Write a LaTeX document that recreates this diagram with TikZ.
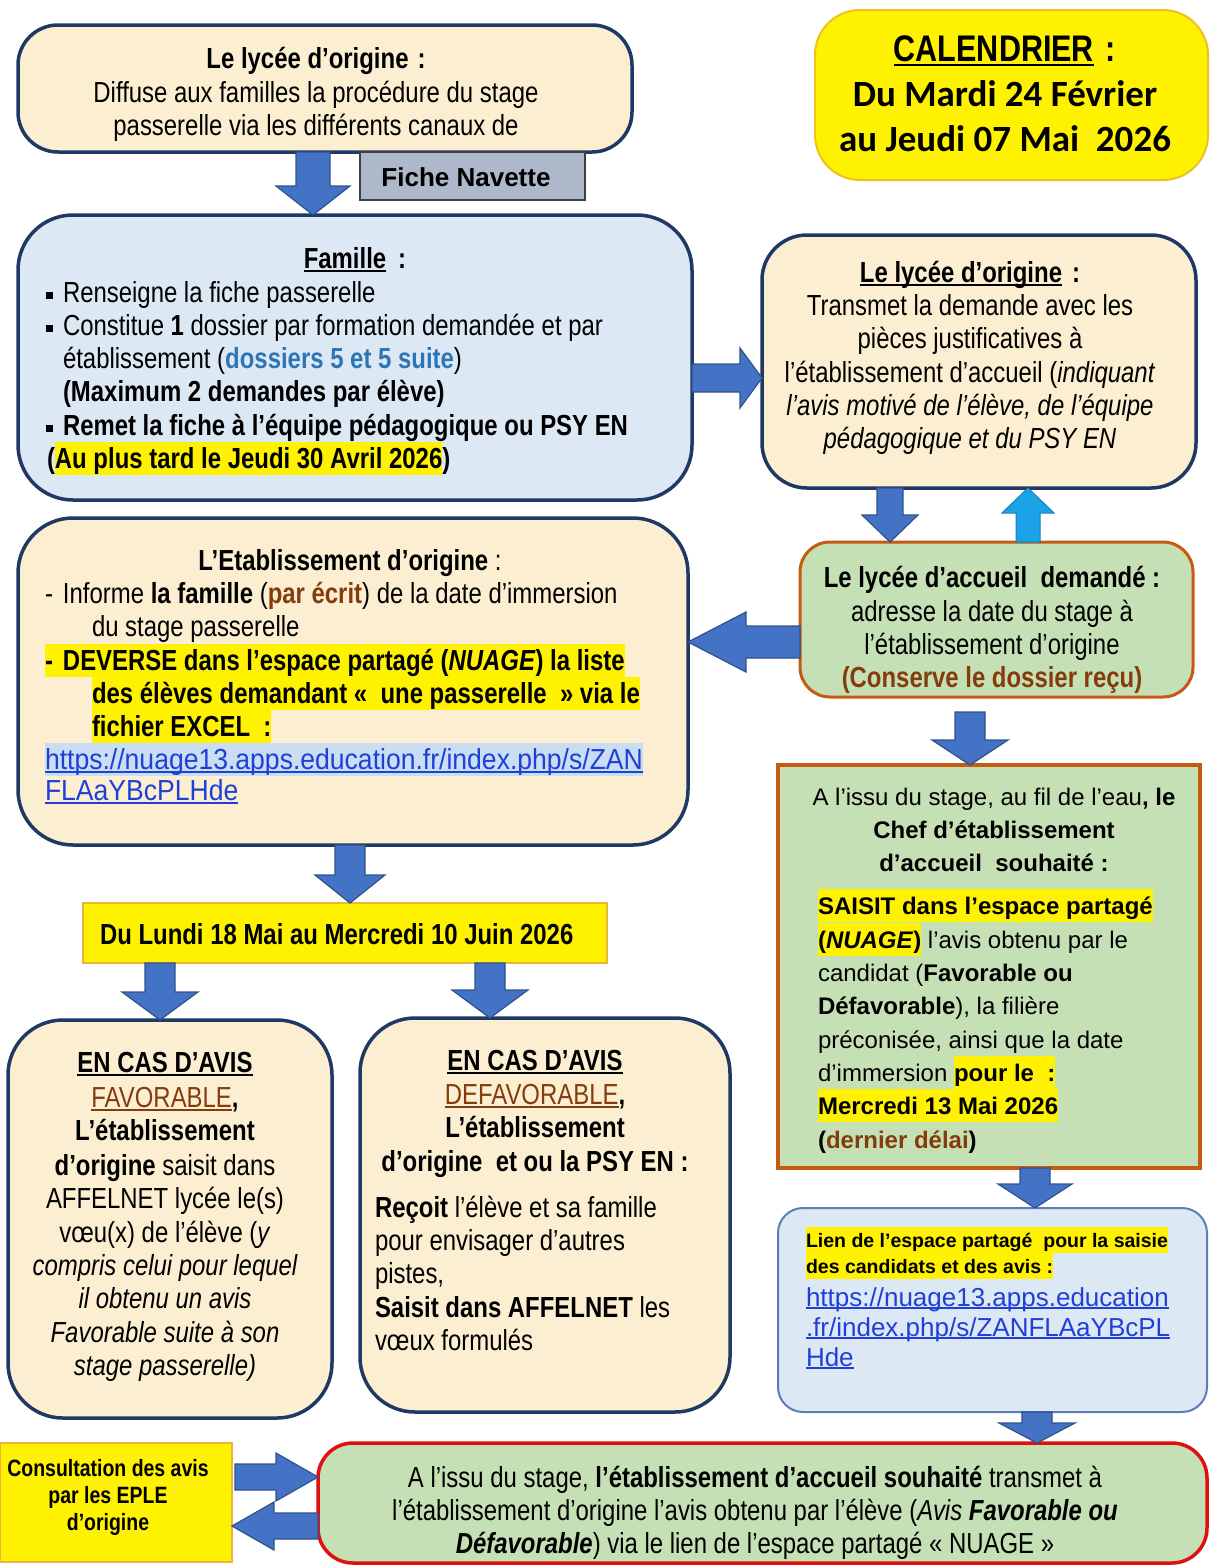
\documentclass[tikz,border=0pt]{standalone}
\usepackage{fontspec}
\setmainfont{Liberation Sans}[FakeStretch=0.825]
\newfontfamily\wide{Liberation Sans}
\newfontfamily\calib{Carlito}
\usetikzlibrary{calc}
\definecolor{beige}{HTML}{FCEFD1}
\definecolor{navy}{HTML}{203864}
\definecolor{lblue}{HTML}{DDE8F5}
\definecolor{green}{HTML}{C6E0B5}
\definecolor{obrown}{HTML}{C55A11}
\definecolor{tbrown}{HTML}{843C0C}
\definecolor{dblue}{HTML}{2E75B6}
\definecolor{link}{HTML}{1F3FD9}
\definecolor{linkbg}{HTML}{C9DEF2}
\definecolor{red2}{HTML}{E01010}
\definecolor{arrblue}{HTML}{4472C4}
\definecolor{arrborder}{HTML}{2F528F}
\definecolor{lightarr}{HTML}{1AA3E6}
\definecolor{calgold}{HTML}{F0C020}
\definecolor{dgold}{HTML}{E9B53A}
\definecolor{fiche}{HTML}{ADB9CA}
\definecolor{lbord}{HTML}{5B7DB8}
\newcommand\nar{\fontsize{29}{33}\selectfont}
\newcommand\wfont{\wide\fontsize{24}{33}\selectfont\def\hlstrut{\rule[-8pt]{0pt}{33pt}}}
\newsavebox\ulbox
\newcommand\uln[2][4pt]{\sbox\ulbox{#2}\rlap{\usebox\ulbox}\rule[-#1]{\wd\ulbox}{1.6pt}}
\newcommand\hlstrut{\rule[-7pt]{0pt}{33pt}}
\newcommand\hy[2][yellow]{{\fboxsep=0pt\colorbox{#1}{\hlstrut#2}}}
\newcommand\bulsq{\makebox[17pt][l]{\rule[3pt]{7pt}{7pt}}}
\newcommand\Tn[5][]{\node[txt,#1] (#2) at (#3,#4) {#5};}
\newcommand\barrow[6][blk]{%
  \path ($(#3)!#6!(#2)$) coordinate (hb);
  \filldraw[#1] ($(#2)!#4!90:(#3)$) -- ($(hb)!#4!90:(#3)$) -- ($(hb)!#5!90:(#3)$) -- (#3)
    -- ($(hb)!#5!-90:(#3)$) -- ($(hb)!#4!-90:(#3)$) -- ($(#2)!#4!-90:(#3)$) -- cycle;}
\begin{document}
\begin{tikzpicture}[x=1pt,y=-1pt,
  txt/.style={inner sep=0pt, outer sep=0pt, anchor=base west, font=\nar},
  rbox/.style={draw, line width=3.5pt, inner sep=0pt, outer sep=0pt},
  sbox/.style={draw, line width=2pt, inner sep=0pt, outer sep=0pt},
  blk/.style={fill=arrblue, draw=arrborder, line width=1.2pt, line join=miter},
  blkl/.style={fill=lightarr, draw=lightarr!80!black, line width=1pt}]
\fill[white] (0,0) rectangle (1210,1566);
\useasboundingbox (0,0) rectangle (1210,1566);

% ---------- top box
\node[rbox, fill=beige, draw=navy, minimum width=614, minimum height=127, rounded corners=40] (lo1) at (325,88.5) {};
\Tn[anchor=base, font=\nar\bfseries]{t1a}{316}{68}{Le lycée d’origine\hspace{9pt}:}
\Tn[anchor=base]{t1b}{316}{102}{Diffuse aux familles la procédure du stage}
\Tn[anchor=base]{t1c}{316}{135}{passerelle via les différents canaux de}

% ---------- fiche navette
\node[sbox, draw=black!75, fill=fiche, minimum width=225, minimum height=48] (fiche) at (472.5,176) {};
\Tn[anchor=base, font=\wide\bfseries\fontsize{26}{30}\selectfont]{fichet}{466}{186}{Fiche Navette}

% ---------- calendar
\node[sbox, fill=yellow, draw=calgold, minimum width=393, minimum height=170, rounded corners=45] (cal) at (1011.5,95) {};
\Tn[anchor=base, font=\bfseries\fontsize{37}{45}\selectfont]{cal1}{1005}{61}{\uln[5pt]{CALENDRIER}\hspace{12pt}:}
\Tn[anchor=base, font=\calib\bfseries\fontsize{37}{45}\selectfont]{cal2}{1005}{106}{Du Mardi 24 Février}
\Tn[anchor=base, font=\calib\bfseries\fontsize{37}{45}\selectfont]{cal3}{1005}{151}{au Jeudi 07 Mai~~2026}

% ---------- famille
\node[rbox, fill=lblue, draw=navy, minimum width=674, minimum height=285, rounded corners=55] (fam) at (355,357.5) {};
\Tn[anchor=base, font=\nar\bfseries]{f0}{355}{268}{\uln{Famille}\hspace{12pt}:}
\Tn{f1}{46}{302}{\bulsq Renseigne la fiche passerelle}
\Tn{f2}{46}{335}{\bulsq Constitue \textbf{1} dossier par formation demandée et par}
\Tn{f3}{63}{368}{établissement (\textcolor{dblue}{\textbf{dossiers 5 et 5 suite}})}
\Tn[font=\nar\bfseries]{f4}{63}{401}{(Maximum 2 demandes par élève)}
\Tn[font=\nar\bfseries]{f5}{46}{435}{\bulsq Remet la fiche à l’équipe pédagogique ou PSY EN}
\Tn[font=\nar\bfseries]{f6}{47}{468}{(\hy{Au plus tard le Jeudi 30 Avril 2026})}

% ---------- right lycee d'origine
\node[rbox, fill=beige, draw=navy, minimum width=434, minimum height=253, rounded corners=45] (lo2) at (979,361.5) {};
\Tn[anchor=base, font=\nar\bfseries]{r0}{970}{282}{\uln{Le lycée d’origine}\hspace{10pt}:}
\Tn[anchor=base]{r1}{970}{315}{Transmet la demande avec les}
\Tn[anchor=base]{r2}{970}{348}{pièces justificatives à}
\Tn[anchor=base]{r3}{970}{382}{l’établissement d’accueil (\textit{indiquant}}
\Tn[anchor=base]{r4}{970}{415}{\textit{l’avis motivé de l’élève, de l’équipe}}
\Tn[anchor=base]{r5}{970}{448}{\textit{pédagogique et du PSY EN}}

% ---------- lycee d'accueil
\node[rbox, line width=3pt, fill=green, draw=obrown, minimum width=393, minimum height=155, rounded corners=30] (acc) at (996.5,619.5) {};
\Tn[anchor=base, font=\nar\bfseries]{a0}{992}{587}{Le lycée d’accueil~~demandé :}
\Tn[anchor=base]{a1}{992}{621}{adresse la date du stage à}
\Tn[anchor=base]{a2}{992}{654}{l’établissement d’origine}
\Tn[anchor=base, font=\nar\bfseries]{a3}{992}{687}{\textcolor{tbrown}{(Conserve le dossier reçu)}}

% ---------- etablissement d'origine
\node[rbox, fill=beige, draw=navy, minimum width=670, minimum height=327, rounded corners=55] (etab) at (353,681.5) {};
\Tn[anchor=base]{e0}{350}{570}{\textbf{L’Etablissement d’origine} :}
\Tn{e1}{45}{603}{\makebox[18pt][l]{-}Informe \textbf{la famille} (\textcolor{tbrown}{\textbf{par écrit}}) de la date d’immersion}
\Tn{e2}{92}{636}{du stage passerelle}
\Tn[font=\nar\bfseries]{e3}{45}{670}{\hy{\makebox[18pt][l]{-}DEVERSE dans l’espace partagé (\textit{NUAGE}) la liste}}
\Tn[font=\nar\bfseries]{e4}{92}{703}{\hy{des élèves demandant «~~une passerelle~~» via le}}
\Tn[font=\nar\bfseries]{e5}{92}{736}{\hy{fichier EXCEL~~:}}
\Tn{e6}{45}{769}{\hy[linkbg]{\textcolor{link}{\scalebox{1.11}[1]{\uln[3.5pt]{https://nuage13.apps.education.fr/index.php/s/ZAN}}}}}
\Tn{e7}{45}{800}{\textcolor{link}{\scalebox{1.11}[1]{\uln[3.5pt]{FLAaYBcPLHde}}}}

% ---------- date box
\node[sbox, fill=yellow, draw=dgold, minimum width=524, minimum height=60] (date) at (345,933) {};
\Tn[font=\nar\bfseries]{d0}{100}{944}{Du Lundi 18 Mai au Mercredi 10 Juin 2026}

% ---------- favorable
\node[rbox, fill=beige, draw=navy, minimum width=324, minimum height=398, rounded corners=55] (fav) at (170,1219) {};
\Tn[anchor=base, font=\nar\bfseries]{v0}{165}{1072}{\uln{EN CAS D’AVIS}}
\Tn[anchor=base]{v1}{165}{1107}{\textcolor{tbrown}{\uln{FAVORABLE}}\textbf{,}}
\Tn[anchor=base, font=\nar\bfseries]{v2}{165}{1140}{L’établissement}
\Tn[anchor=base]{v3}{165}{1175}{\textbf{d’origine} saisit dans}
\Tn[anchor=base]{v4}{165}{1208}{AFFELNET lycée le(s)}
\Tn[anchor=base]{v5}{165}{1242}{vœu(x) de l’élève (\textit{y}}
\Tn[anchor=base, font=\nar\itshape]{v6}{165}{1275}{compris celui pour lequel}
\Tn[anchor=base, font=\nar\itshape]{v7}{165}{1308}{il obtenu un avis}
\Tn[anchor=base, font=\nar\itshape]{v8}{165}{1342}{Favorable suite à son}
\Tn[anchor=base, font=\nar\itshape]{v9}{165}{1375}{stage passerelle)}

% ---------- defavorable
\node[rbox, fill=beige, draw=navy, minimum width=370, minimum height=394, rounded corners=55] (def) at (545,1215) {};
\Tn[anchor=base, font=\nar\bfseries]{w0}{535}{1070}{\uln{EN CAS D’AVIS}}
\Tn[anchor=base]{w1}{535}{1104}{\textcolor{tbrown}{\uln{DEFAVORABLE}}\textbf{,}}
\Tn[anchor=base, font=\nar\bfseries]{w2}{535}{1137}{L’établissement}
\Tn[anchor=base, font=\nar\bfseries]{w3}{535}{1171}{d’origine~~et ou la PSY EN :}
\Tn{w4}{375}{1217}{\textbf{Reçoit} l’élève et sa famille}
\Tn{w5}{375}{1250}{pour envisager d’autres}
\Tn{w6}{375}{1283}{pistes,}
\Tn{w7}{375}{1317}{\textbf{Saisit dans AFFELNET} les}
\Tn{w8}{375}{1350}{vœux formulés}

% ---------- chef d'etablissement
\node[sbox, line width=4pt, fill=green, draw=obrown, minimum width=422, minimum height=403] (chef) at (989,966.5) {};
\Tn[anchor=base, font=\wfont]{c0}{994}{805}{A l’issu du stage, au fil de l’eau\textbf{, le}}
\Tn[anchor=base, font=\wfont\bfseries]{c1}{994}{838}{Chef d’établissement}
\Tn[anchor=base, font=\wfont\bfseries]{c2}{994}{871}{d’accueil~~souhaité :}
\Tn[font=\wfont\bfseries]{c3}{818}{914}{\hy{SAISIT dans l’espace partagé}}
\Tn[font=\wfont]{c4}{818}{948}{\hy{\textbf{(\textit{NUAGE})}} l’avis obtenu par le}
\Tn[font=\wfont]{c5}{818}{981}{candidat (\textbf{Favorable ou}}
\Tn[font=\wfont]{c6}{818}{1014}{\textbf{Défavorable}), la filière}
\Tn[font=\wfont]{c7}{818}{1048}{préconisée, ainsi que la date}
\Tn[font=\wfont]{c8}{818}{1081}{d’immersion \hy{\textbf{pour le~~:}}}
\Tn[font=\wfont\bfseries]{c9}{818}{1114}{\hy{Mercredi 13 Mai 2026}}
\Tn[font=\wfont\bfseries]{c10}{818}{1148}{(\textcolor{tbrown}{dernier délai})}

% ---------- lien box
\node[sbox, fill=lblue, draw=lbord, minimum width=429, minimum height=204, rounded corners=25] (lien) at (992.5,1310) {};
\Tn[font=\wide\bfseries\fontsize{19.5}{26}\selectfont\def\hlstrut{\rule[-6pt]{0pt}{26pt}}]{l0}{806}{1247}{\hy{Lien de l’espace partagé~~pour la saisie}}
\Tn[font=\wide\bfseries\fontsize{19.5}{26}\selectfont\def\hlstrut{\rule[-6pt]{0pt}{26pt}}]{l1}{806}{1273}{\hy{des candidats et des avis :}}
\Tn[font=\wide\fontsize{26}{30}\selectfont]{l2}{806}{1306}{\textcolor{link}{\uln[3pt]{https://nuage13.apps.education}}}
\Tn[font=\wide\fontsize{26}{30}\selectfont]{l3}{806}{1336}{\textcolor{link}{\uln[3pt]{.fr/index.php/s/ZANFLAaYBcPL}}}
\Tn[font=\wide\fontsize{26}{30}\selectfont]{l4}{806}{1366}{\textcolor{link}{\uln[3pt]{Hde}}}

% ---------- final box
\node[rbox, fill=green, draw=red2, minimum width=889, minimum height=120, rounded corners=35] (fin) at (762.5,1503) {};
\Tn[anchor=base]{g0}{755}{1487}{A l’issu du stage, \textbf{l’établissement d’accueil souhaité} transmet à}
\Tn[anchor=base]{g1}{755}{1520}{l’établissement d’origine l’avis obtenu par l’élève (\textit{Avis \textbf{Favorable ou}}}
\Tn[anchor=base]{g2}{755}{1553}{\textbf{\textit{Défavorable}}) via le lien de l’espace partagé « NUAGE »}

% ---------- consultation
\node[sbox, fill=yellow, draw=dgold, minimum width=232, minimum height=119] (cons) at (116,1502.5) {};
\Tn[anchor=base, font=\bfseries\fontsize{23.6}{27}\selectfont]{k0}{108}{1476}{Consultation des avis}
\Tn[anchor=base, font=\bfseries\fontsize{23.6}{27}\selectfont]{k1}{108}{1503}{par les EPLE}
\Tn[anchor=base, font=\bfseries\fontsize{23.6}{27}\selectfont]{k2}{108}{1530}{d’origine}

% ---------- block arrows
\coordinate (s1) at ($(lo1.south)+(-12,0)$);  \coordinate (e1) at (s1 |- fam.north);
\barrow{s1}{e1}{17pt}{37pt}{29pt}
\coordinate (s2) at ($(fam.east)+(0,20.5)$);  \coordinate (e2) at (s2 -| lo2.west);
\barrow{s2}{e2}{14pt}{30pt}{22pt}
\coordinate (s3) at ($(lo2.south)+(-89,0)$);  \coordinate (e3) at (s3 |- acc.north);
\barrow{s3}{e3}{13pt}{28pt}{27pt}
\coordinate (s4) at ($(acc.north)+(31.5,0)$); \coordinate (e4) at (s4 |- lo2.south);
\barrow[blkl]{s4}{e4}{12pt}{26pt}{25pt}
\coordinate (s5) at ($(acc.west)+(0,22.5)$);  \coordinate (e5) at (s5 -| etab.east);
\barrow{s5}{e5}{16pt}{30pt}{58pt}
\coordinate (s6) at ($(etab.south)+(-3,0)$);  \coordinate (e6) at (s6 |- date.north);
\barrow{s6}{e6}{15pt}{35pt}{28pt}
\coordinate (s7) at ($(date.south)+(-185,0)$); \coordinate (e7) at (s7 |- fav.north);
\barrow{s7}{e7}{15pt}{38pt}{28pt}
\coordinate (s8) at ($(date.south)+(145,0)$); \coordinate (e8) at (s8 |- def.north);
\barrow{s8}{e8}{15pt}{38pt}{28pt}
\coordinate (s9) at ($(acc.south)+(-26.5,15)$); \coordinate (e9) at (s9 |- chef.north);
\barrow{s9}{e9}{15pt}{38pt}{25pt}
\coordinate (s10) at ($(chef.south)+(46,0)$); \coordinate (e10) at (s10 |- lien.north);
\barrow{s10}{e10}{15pt}{37pt}{24pt}
\coordinate (s11) at ($(lien.south)+(44.5,0)$); \coordinate (e11) at (s11 |- fin.north);
\barrow{s11}{e11}{15pt}{38pt}{20pt}
\coordinate (s12) at ($(cons.east)+(3,-25.5)$); \coordinate (e12) at (s12 -| fin.west);
\barrow{s12}{e12}{13pt}{24pt}{42pt}
\coordinate (s13) at ($(fin.west)+(0,23)$); \coordinate (e13) at (s13 -| cons.east);
\barrow{s13}{e13}{13pt}{24pt}{42pt}
\end{tikzpicture}
\end{document}
